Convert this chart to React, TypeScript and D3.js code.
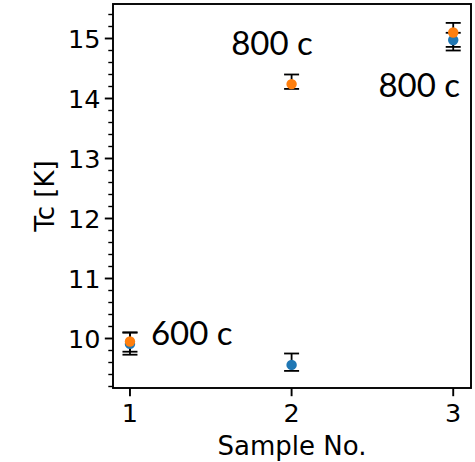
import React from 'react';
import * as d3 from 'd3';

// sample numbers on the x axis
const samples = [1, 2, 3];

// first series (blue)
const tcBlue = [9.91, 9.56, 14.975];
const blueErrLow = [0.18, 0.1, 0.175];
const blueErrHigh = [0.19, 0.19, 0.12];

// second series (orange)
const tcOrange = [9.95, 14.24, 15.1];
const orangeErrLow = [0.17, 0.08, 0.24];
const orangeErrHigh = [0.15, 0.16, 0.16];

// text notes placed in data coords
const noteText = ['800 c', '800 c', '600 c'];
const noteX = [1.626, 2.537, 1.13];
const noteY = [14.73, 14.03, 9.89];

const xTicks = [1, 2, 3];
const yTicks = [10, 11, 12, 13, 14, 15];

const W = 475;
const H = 462;
const left = 113;
const right = 471;
const top = 4;
const bottom = 388;

const BLUE = '#1f77b4';
const ORANGE = '#ff7f0e';
const FONT = 'DejaVu Sans, sans-serif';
const FS = 25.5;

const App = () => {
  const x = d3.scaleLinear().domain([0.895, 3.11]).range([left, right]);
  const y = d3.scaleLinear().domain([9.175, 15.575]).range([bottom, top]);

  // minor ticks every 0.2 on y
  const minor = d3.range(9.2, 15.6, 0.2).filter(v => Math.abs(v - Math.round(v)) > 0.01);

  const series = [
    { vals: tcBlue, lo: blueErrLow, hi: blueErrHigh, color: BLUE },
    { vals: tcOrange, lo: orangeErrLow, hi: orangeErrHigh, color: ORANGE },
  ];

  const cap = 7.5;

  return (
    <svg width={W} height={H} style={{ position: 'absolute', left: 0, top: 0, background: '#fff' }}>
      <rect x={0} y={0} width={W} height={H} fill="#fff" />

      {/* error bars */}
      {series.map((s, si) =>
        samples.map((d, i) => {
          const cx = x(d);
          const y1 = y(s.vals[i] + s.hi[i]);
          const y0 = y(s.vals[i] - s.lo[i]);
          return (
            <g key={`e${si}-${i}`} stroke="#000" strokeWidth={1.8}>
              <line x1={cx} x2={cx} y1={y1} y2={y0} />
              <line x1={cx - cap} x2={cx + cap} y1={y1} y2={y1} />
              <line x1={cx - cap} x2={cx + cap} y1={y0} y2={y0} />
            </g>
          );
        })
      )}

      {/* markers */}
      {series.map((s, si) =>
        samples.map((d, i) => (
          <circle key={`m${si}-${i}`} cx={x(d)} cy={y(s.vals[i])} r={5.2} fill={s.color} />
        ))
      )}

      {/* notes */}
      {noteText.map((t, i) => (
        <text key={`n${i}`} x={x(noteX[i])} y={y(noteY[i])} fontFamily="Lato, sans-serif" fontSize={33} fill="#000">
          {t}
        </text>
      ))}

      {/* frame */}
      <rect x={left} y={top} width={right - left} height={bottom - top} fill="none" stroke="#000" strokeWidth={1.9} />

      {/* y axis */}
      {yTicks.map(v => (
        <g key={`y${v}`}>
          <line x1={left - 8.2} x2={left} y1={y(v)} y2={y(v)} stroke="#000" strokeWidth={1.9} />
          <text x={left - 12.5} y={y(v)} dy="0.36em" textAnchor="end" fontFamily={FONT} fontSize={FS} fill="#000">
            {v}
          </text>
        </g>
      ))}
      {minor.map((v, i) => (
        <line key={`ym${i}`} x1={left - 4.7} x2={left} y1={y(v)} y2={y(v)} stroke="#000" strokeWidth={1.4} />
      ))}

      {/* x axis */}
      {xTicks.map(v => (
        <g key={`x${v}`}>
          <line x1={x(v)} x2={x(v)} y1={bottom} y2={bottom + 8.2} stroke="#000" strokeWidth={1.9} />
          <text x={x(v)} y={bottom + 33.5} textAnchor="middle" fontFamily={FONT} fontSize={FS} fill="#000">
            {v}
          </text>
        </g>
      ))}

      <text x={(left + right) / 2} y={455} textAnchor="middle" fontFamily={FONT} fontSize={26} fill="#000">
        Sample No.
      </text>
      <text
        transform={`translate(54,${(top + bottom) / 2}) rotate(-90)`}
        textAnchor="middle"
        fontFamily={FONT}
        fontSize={26}
        fill="#000"
      >
        Tc [K]
      </text>
    </svg>
  );
};

export default App;
